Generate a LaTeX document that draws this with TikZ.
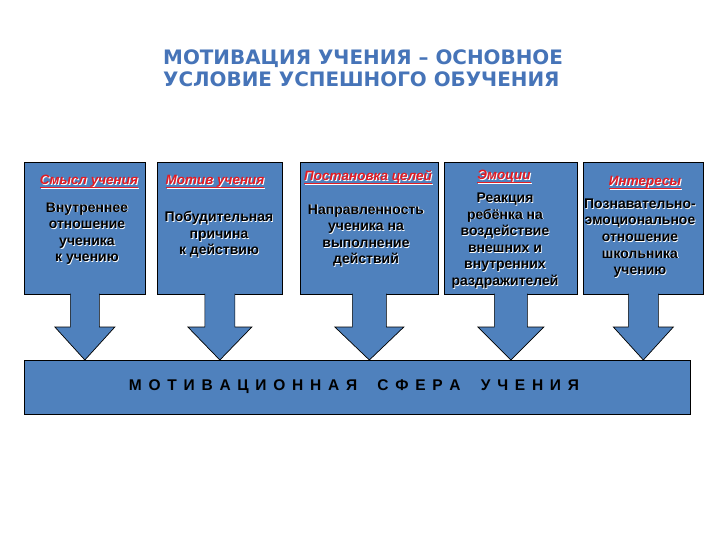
\documentclass[tikz,border=0pt]{standalone}
\usepackage{fontspec}
\setmainfont{Liberation Sans}
\newfontfamily\titlefont{DejaVu Sans}
\usetikzlibrary{calc}
\definecolor{boxblue}{RGB}{79,129,189}
\definecolor{titleblue}{RGB}{70,116,184}
\definecolor{headred}{RGB}{226,28,36}
\newcommand\ulx[1]{\sbox0{#1}\rlap{\rule[-2.6bp]{\wd0}{0.9bp}}\usebox0}
\newcommand\hd[1]{\rlap{\kern1bp\raisebox{-1bp}{\color{white}\ulx{#1}}}{\color{headred}\ulx{#1}}}
\newcommand\bd[1]{\rlap{\kern0.8bp\raisebox{-0.8bp}{\color{white}#1}}#1}
\newcommand\barrow[3]{%
  \filldraw[arr] ($(#1.south)+(-#2,-1)$)
    -- ($(#1.south |- bar.north)+(-#2,-33)$)
    -- ($(#1.south |- bar.north)+(-#3,-33)$)
    -- (#1.south |- bar.north)
    -- ($(#1.south |- bar.north)+(#3,-33)$)
    -- ($(#1.south |- bar.north)+(#2,-33)$)
    -- ($(#1.south)+(#2,-1)$);}
\tikzset{
  box/.style={draw=black, line width=0.7bp, fill=boxblue, inner sep=0pt, anchor=north west},
  arr/.style={fill=boxblue, draw=black, line width=0.7bp, line join=miter},
  body/.style={font=\bfseries\fontsize{14bp}{16.6bp}\selectfont, align=center, inner sep=0pt, text=black},
  head/.style={font=\bfseries\itshape\fontsize{13.5bp}{16bp}\selectfont, inner sep=0pt, anchor=base},
  ttl/.style={font=\titlefont\bfseries\fontsize{19.9bp}{22bp}\selectfont, text=titleblue, inner sep=0pt, anchor=base west}
}
\begin{document}
\begin{tikzpicture}[x=1bp,y=-1bp]
\useasboundingbox[fill=white] (0,0) rectangle (720,540);
% title
\node[ttl] (t1) at (163,65) {МОТИВАЦИЯ УЧЕНИЯ – ОСНОВНОЕ};
\node[ttl] (t2) at (163,87) {УСЛОВИЕ УСПЕШНОГО ОБУЧЕНИЯ};
% boxes
\node[box, minimum width=121bp, minimum height=132bp] (b1) at (24,162) {};
\node[box, minimum width=125bp, minimum height=132bp] (b2) at (157,162) {};
\node[box, minimum width=138bp, minimum height=132bp] (b3) at (300,162) {};
\node[box, minimum width=133bp, minimum height=132bp] (b4) at (444,162) {};
\node[box, minimum width=120bp, minimum height=132bp] (b5) at (583,162) {};
\node[box, minimum width=666bp, minimum height=54bp] (bar) at (24,360) {};
% arrows
\barrow{b1}{14.5}{30}
\barrow{b2}{15}{32}
\barrow{b3}{17}{34.5}
\barrow{b4}{16.5}{33}
\barrow{b5}{15}{30}
% headings
\node[head] (h1) at (89,185) {\hd{Смысл учения}};
\node[head] (h2) at (215,185) {\hd{Мотив учения}};
\node[head] (h3) at (368,181) {\hd{Постановка целей}};
\node[head] (h4) at (504,180) {\hd{Эмоции}};
\node[head] (h5) at (645,186) {\hd{Интересы}};
% bodies
\node[body] (x1) at (87,234) {\bd{Внутреннее}\\\bd{отношение}\\\bd{ученика}\\\bd{к учению}};
\node[body] (x2) at (219,235) {\bd{Побудительная}\\\bd{причина}\\\bd{к действию}};
\node[body] (x3) at (366,236) {\bd{Направленность}\\\bd{ученика на}\\\bd{выполнение}\\\bd{действий}};
\node[body] (x4) at (505,241) {\bd{Реакция}\\\bd{ребёнка на}\\\bd{воздействие}\\\bd{внешних и}\\\bd{внутренних}\\\bd{раздражителей}};
\node[body] (x5) at (640,238.5) {\bd{Познавательно-}\\\bd{эмоциональное}\\\bd{отношение}\\\bd{школьника}\\\bd{учению}};
% bar text
\node[font=\bfseries\fontsize{15.5bp}{18bp}\selectfont, inner sep=0pt] (bt) at (354,387)
  {\makebox[450bp][s]{М\hfill О\hfill Т\hfill И\hfill В\hfill А\hfill Ц\hfill И\hfill О\hfill Н\hfill Н\hfill А\hfill Я\hfill\hfill\hfill С\hfill Ф\hfill Е\hfill Р\hfill А\hfill\hfill\hfill У\hfill Ч\hfill Е\hfill Н\hfill И\hfill Я}};
\end{tikzpicture}
\end{document}
